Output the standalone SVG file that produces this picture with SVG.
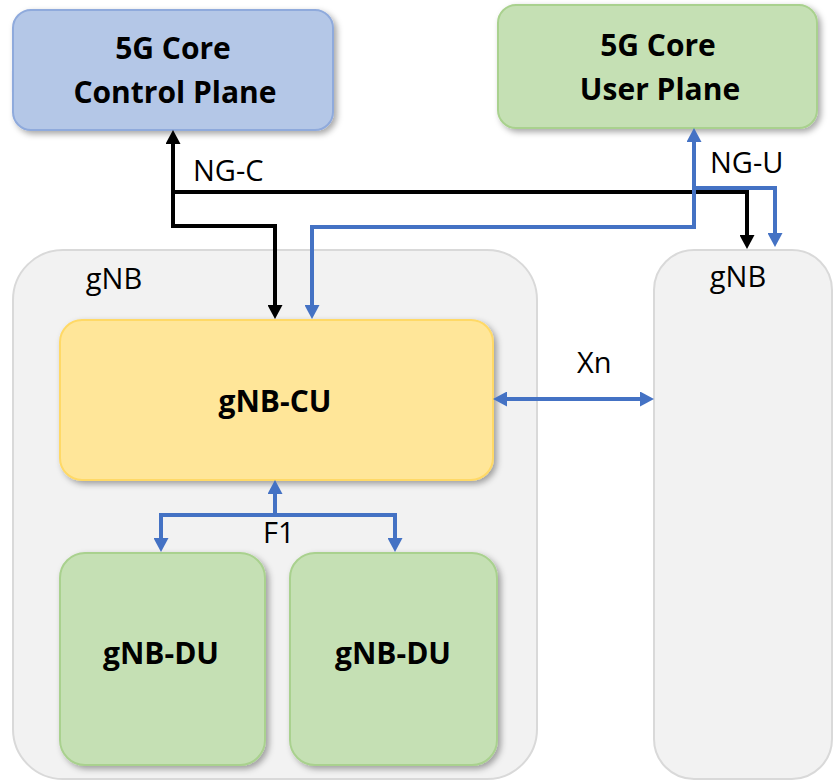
<svg xmlns="http://www.w3.org/2000/svg" width="833" height="782" viewBox="0 0 833 782">
<style>
.title{font-family:"Open Sans","Noto Sans",sans-serif;font-weight:bold;font-size:30px;fill:#000;text-anchor:middle}
.lbl{font-family:"Open Sans","Noto Sans",sans-serif;font-size:29px;fill:#000}
.gnb{fill:#F2F2F2;stroke:#D9D9D9;stroke-width:2}
.green{fill:#C5E0B4;stroke:#A9D18E;stroke-width:2}
.blk{fill:none;stroke:#000;stroke-width:4}
.blu{fill:none;stroke:#4472C4;stroke-width:4}
</style>
<defs>
<filter id="sh" x="-10%" y="-10%" width="130%" height="130%">
<feDropShadow dx="3" dy="3" stdDeviation="3" flood-color="#000" flood-opacity="0.35"/>
</filter>
<marker id="ak" markerUnits="userSpaceOnUse" markerWidth="15" markerHeight="15" viewBox="0 0 14 15" refX="1" refY="7.5" orient="auto-start-reverse"><path d="M0,0 L14,7.5 L0,15 z" fill="#000"/></marker>
<marker id="ab" markerUnits="userSpaceOnUse" markerWidth="15" markerHeight="15" viewBox="0 0 14 15" refX="1" refY="7.5" orient="auto-start-reverse"><path d="M0,0 L14,7.5 L0,15 z" fill="#4472C4"/></marker>
</defs>
<g id="gnb-left"><rect class="gnb" x="13" y="250" width="524" height="529" rx="50"/><text class="lbl" x="114" y="289" text-anchor="middle">gNB</text></g>
<g id="gnb-right"><rect class="gnb" x="654" y="250" width="178" height="529" rx="40"/><text class="lbl" x="738" y="287" text-anchor="middle">gNB</text></g>
<g id="core-cp"><rect x="13" y="10" width="320" height="120" rx="18" fill="#B4C7E7" stroke="#8FAADC" stroke-width="2" filter="url(#sh)"/><text class="title" x="173" y="59">5G Core</text><text class="title" x="175" y="103">Control Plane</text></g>
<g id="core-up"><rect class="green" x="498" y="5" width="319" height="123" rx="18" filter="url(#sh)"/><text class="title" x="658" y="56">5G Core</text><text class="title" x="660" y="100">User Plane</text></g>
<g id="gnb-cu"><rect x="60" y="320" width="433" height="160" rx="22" fill="#FFE699" stroke="#FFD966" stroke-width="2" filter="url(#sh)"/><text class="title" x="275" y="412">gNB-CU</text></g>
<g id="gnb-du1"><rect class="green" x="60" y="553" width="205" height="212" rx="25" filter="url(#sh)"/><text class="title" x="161" y="664">gNB-DU</text></g>
<g id="gnb-du2"><rect class="green" x="290" y="553" width="207" height="212" rx="25" filter="url(#sh)"/><text class="title" x="393" y="664">gNB-DU</text></g>
<g id="connectors">
<path class="blk" d="M173,143 V226 H275 V306" marker-start="url(#ak)" marker-end="url(#ak)"/>
<path class="blk" d="M173,192 H747 V236" marker-end="url(#ak)"/>
<path class="blu" d="M312,306 V227 H694 V141" marker-start="url(#ab)" marker-end="url(#ab)"/>
<path class="blu" d="M694,188 H775 V234" marker-end="url(#ab)"/>
<path class="blu" d="M506,399 H641" marker-start="url(#ab)" marker-end="url(#ab)"/>
<path class="blu" d="M275,493 V517" marker-start="url(#ab)"/>
<path class="blu" d="M161,539 V515 H395 V539" marker-start="url(#ab)" marker-end="url(#ab)"/>
<text class="lbl" x="193" y="181">NG-C</text>
<text class="lbl" x="710" y="173">NG-U</text>
<text class="lbl" x="577" y="373">Xn</text>
<text class="lbl" x="263" y="543">F1</text>
</g>
</svg>
